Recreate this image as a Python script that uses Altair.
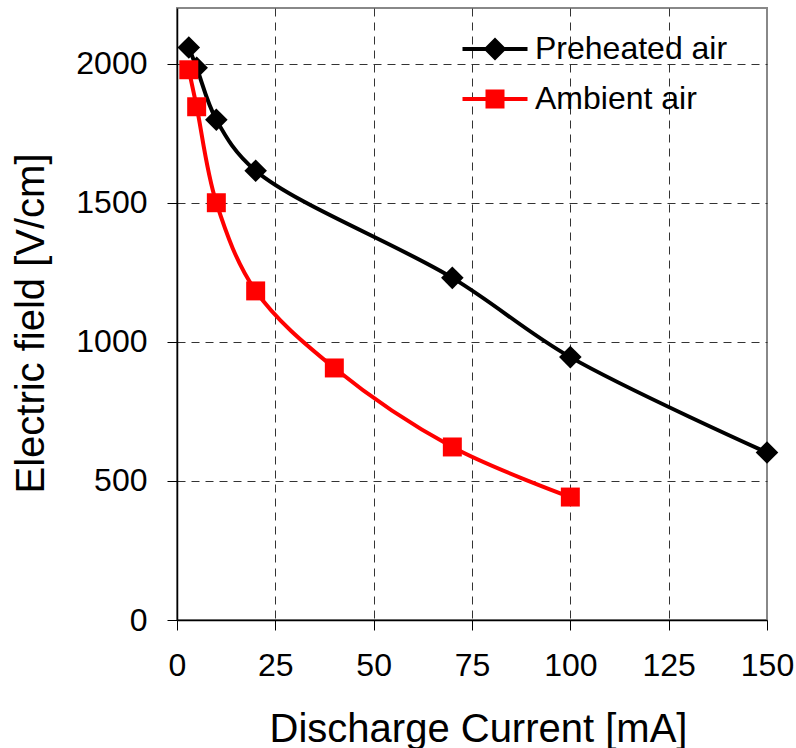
import altair as alt
import pandas as pd

series = ["Preheated air", "Ambient air"]
colors = ["#000000", "#ff0000"]
shapes = ["diamond", "square"]
marker_sizes = [510, 360]

current_pre = [3, 5, 10, 20, 70, 100, 150]
field_pre = [2058, 1985, 1798, 1615, 1230, 945, 602]
current_amb = [3, 5, 10, 20, 40, 70, 100]
field_amb = [1978, 1845, 1500, 1183, 906, 622, 442]

x_ticks = [0, 25, 50, 75, 100, 125, 150]
y_ticks = [0, 500, 1000, 1500, 2000]

df = pd.concat([
    pd.DataFrame({"current": current_pre, "field": field_pre, "series": series[0]}),
    pd.DataFrame({"current": current_amb, "field": field_amb, "series": series[1]}),
])

FONT = "Liberation Sans"

x_enc = alt.X(
    "current:Q",
    scale=alt.Scale(domain=[0, 150], nice=False, zero=False),
    axis=alt.Axis(
        values=x_ticks, title="Discharge Current [mA]", format="d",
        labelFont=FONT, labelFontSize=32, labelColor="black", labelPadding=20,
        tickSize=10, tickColor="black", domainColor="black", domainWidth=1.5,
        grid=True, gridDash=[8, 6],
        gridColor={"condition": {"test": "datum.value === 150 || datum.value === 0", "value": "transparent"}, "value": "#333333"},
        titleFont=FONT, titleFontSize=40, titleFontWeight="normal", titleColor="black",
        titleBaseline="alphabetic", titleY=121, titleX=301, labelFlush=False,
    ),
)
y_enc = alt.Y(
    "field:Q",
    scale=alt.Scale(domain=[0, 2200], nice=False),
    axis=alt.Axis(
        values=y_ticks, title="Electric field [V/cm]", format="d",
        labelFont=FONT, labelFontSize=32, labelColor="black", labelPadding=20,
        tickSize=10, tickColor="black", domainColor="black", domainWidth=1.5,
        grid=True, gridDash=[8, 6],
        gridColor={"condition": {"test": "datum.value === 0", "value": "transparent"}, "value": "#333333"},
        titleFont=FONT, titleFontSize=40, titleFontWeight="normal", titleColor="black",
        titleBaseline="alphabetic", titleX=-134, titleY=315, titleAngle=270, labelFlush=False,
    ),
)

color_scale = alt.Scale(domain=series, range=colors)

# legend symbols: a filled bar (the line) plus the marker, as custom paths
legend_paths = [
    "M-1.625,-0.1H1.625V0.1H-1.625Z M0,-0.575L0.575,0L0,0.575L-0.575,0Z",
    "M-1.625,-0.1H1.625V0.1H-1.625Z M-0.475,-0.475H0.475V0.475H-0.475Z",
]

base = alt.Chart(df).encode(x=x_enc, y=y_enc)

leg_kwargs = dict(
    title=None, orient="none", legendX=298, legendY=21, padding=0,
    labelFont=FONT, labelFontSize=32, labelColor="black", labelOffset=20,
    labelLimit=0,
    symbolSize=1600, symbolStrokeWidth=0, symbolOpacity=1, rowPadding=14,
)

legend_layer = base.transform_filter("false").mark_point(filled=True, opacity=1, size=1600).encode(
    color=alt.Color("series:N", scale=color_scale, legend=alt.Legend(**leg_kwargs)),
    shape=alt.Shape("series:N", scale=alt.Scale(domain=series, range=legend_paths),
                    legend=alt.Legend(**leg_kwargs)),
)

lines = base.mark_line(interpolate="catmull-rom", strokeWidth=4).encode(
    color=alt.Color("series:N", scale=color_scale),
    detail="series:N",
)

pts_pre = base.transform_filter(alt.datum.series == series[0]).mark_point(
    filled=True, opacity=1, shape=shapes[0], size=marker_sizes[0]
).encode(color=alt.Color("series:N", scale=color_scale))

pts_amb = base.transform_filter(alt.datum.series == series[1]).mark_point(
    filled=True, opacity=1, shape=shapes[1], size=marker_sizes[1]
).encode(color=alt.Color("series:N", scale=color_scale))

chart = alt.layer(legend_layer, lines, pts_pre, pts_amb).properties(
    width=590, height=612,
    autosize=alt.AutoSizeParams(type="none"),
    padding={"left": 177, "top": 8, "right": 29, "bottom": 128},
    background="white",
).configure_view(stroke="#888888", strokeWidth=2)

chart.save("out.html", embed_options={"renderer": "svg", "actions": False})
